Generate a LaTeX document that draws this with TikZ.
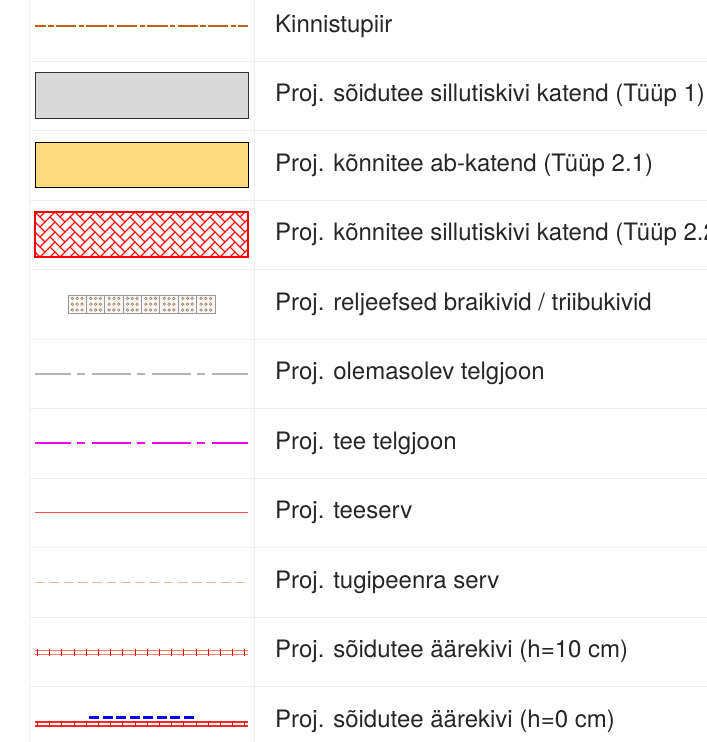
\documentclass[tikz,border=0pt]{standalone}
\usepackage{fontspec}
\setmainfont{TeX Gyre Heros}
\definecolor{piirvarv}{RGB}{192,96,16}
\definecolor{katend1}{RGB}{218,218,218}
\definecolor{katend2}{RGB}{253,220,128}
\definecolor{telg}{RGB}{180,180,180}
\definecolor{teetelg}{RGB}{240,0,240}
\definecolor{teeserv}{RGB}{255,80,80}
\definecolor{tugi}{RGB}{225,185,160}
\definecolor{kivi}{RGB}{255,120,120}
\definecolor{punkt}{RGB}{165,125,95}
\tikzset{
    gridline/.style={draw=black!6, line width=0.8pt},
    lbl/.style={anchor=base west, inner sep=0pt, text=black!85,
        font=\fontsize{24}{28}\selectfont},
    kivijoon/.style={line width=1.4pt},
    kivitick/.style={red, line width=0.9pt},
    piirjoon/.style={color=piirvarv, line width=2pt,
        dash pattern=on 20.5pt off 2.3pt on 5.3pt off 2.3pt, dash phase=9.5pt}
}
\begin{document}
\begin{tikzpicture}[x=1pt, y=-1pt]
    \useasboundingbox (0,0) rectangle (707,742);
    \clip (0,0) rectangle (707,742);
    \fill [white] (0,0) rectangle (707,742);
    % table lines
    \draw [gridline] (29.5,0) -- (29.5,742);
    \draw [gridline] (254.3,0) -- (254.3,742);
    \foreach \k in {0,...,9}
        \draw [gridline] (29.5,{61+69.5*\k}) -- (707,{61+69.5*\k});
    % samples
    \draw [fill=katend1, draw=black!80, line width=1pt] (35,72) rectangle (248,118);
    \draw [fill=katend2, draw=black, line width=1pt] (35,142) rectangle (248,187);
    \begin{scope}
        \clip (35,212) rectangle (248,257);
        \begin{scope}[shift={(35,212)}, rotate=-45, scale=7.07, red, line width=0.8pt]
            \foreach \a in {-2,...,12}
                \foreach \b in {-3,...,8} {
                    \draw ({2*\a+\b},{-2*\a+\b}) rectangle ++(2,1);
                    \draw ({2*\a+\b+2},{-2*\a+\b-1}) rectangle ++(1,2);
                }
        \end{scope}
    \end{scope}
    \draw [red, line width=1.2pt] (35,212) rectangle (248,257);
    \foreach \i in {0,...,7} {
        \draw [fill=black!3, draw=black!40, line width=0.8pt] ({68+18.375*\i},295) rectangle ++(18.375,18.3);
        \foreach \cx in {4.4,9.2,14}
            \foreach \cy in {3.4,9.2,15}
                \draw [punkt, line width=0.6pt] ({68+18.375*\i+\cx},{295+\cy}) circle (1.3pt);
    }
    \draw [telg, line width=2pt, dash pattern=on 39pt off 6pt on 8.5pt off 6.5pt, dash phase=3.3pt] (35,374) -- (248,374);
    \draw [teetelg, line width=1.8pt, dash pattern=on 39pt off 6pt on 8.5pt off 6.5pt, dash phase=3.3pt] (35,443) -- (248,443);
    \draw [teeserv, line width=1.5pt] (35,512.7) -- (248,512.7);
    \draw [tugi, line width=1.3pt, dash pattern=on 9.7pt off 4.6pt] (35,582.3) -- (248,582.3);
    % aarekivi h=10
    \draw [kivijoon, kivi] (35,650.7) -- (248,650.7);
    \draw [kivijoon, kivi] (35,654.3) -- (248,654.3);
    \foreach \k in {0,...,17}
        \draw [kivitick] ({37.5+12.2*\k},649.3) -- ++(0,6.4);
    % aarekivi h=0
    \draw [blue, line width=2.8pt, dash pattern=on 10pt off 3.5pt] (89,717.3) -- (194,717.3);
    \draw [kivijoon, red!85] (35,722) -- (248,722);
    \draw [kivijoon, red!85] (35,726) -- (248,726);
    \foreach \k in {0,...,17}
        \draw [kivitick] ({37.5+12.2*\k},720.6) -- ++(0,6.4);
    % kinnistupiir
    \draw [piirjoon] (35,25.5) -- (248,25.5);
    % labels
    \node [lbl] (piirtxt) at (275,32.3) {Kinnistupiir};
    \node [lbl] (soidutee) at (275,101.8) {Proj. sõidutee sillutiskivi katend (Tüüp 1)};
    \node [lbl] (konniab) at (275,171.3) {Proj. kõnnitee ab-katend (Tüüp 2.1)};
    \node [lbl] (konnisill) at (275,240.8) {Proj. kõnnitee sillutiskivi katend (Tüüp 2.2)};
    \node [lbl] (braille) at (275,310.3) {Proj. reljeefsed braikivid / triibukivid};
    \node [lbl] (vanatelg) at (275,379.8) {Proj. olemasolev telgjoon};
    \node [lbl] (teetelgtxt) at (275,449.3) {Proj. tee telgjoon};
    \node [lbl] (teeservtxt) at (275,518.8) {Proj. teeserv};
    \node [lbl] (tugitxt) at (275,588.3) {Proj. tugipeenra serv};
    \node [lbl] (kivi10) at (275,657.8) {Proj. sõidutee äärekivi (h=10 cm)};
    \node [lbl] (kivi0) at (275,727.3) {Proj. sõidutee äärekivi (h=0 cm)};
\end{tikzpicture}
\end{document}
